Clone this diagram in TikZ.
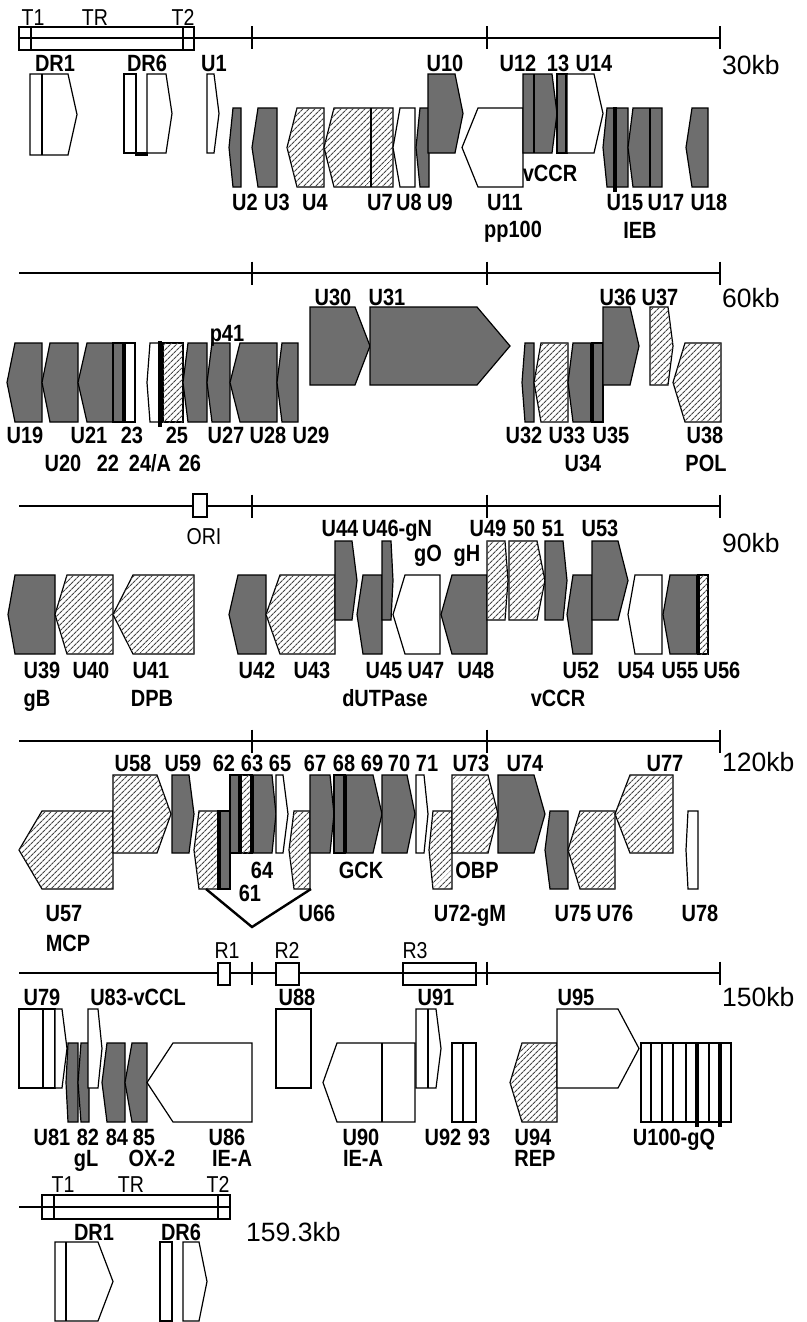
\documentclass[tikz,border=0pt]{standalone}
\usepackage{fontspec}
\usetikzlibrary{patterns.meta}
\newfontfamily\labfont{Liberation Sans}[FakeStretch=0.85]
\newfontfamily\kbfont{Liberation Sans}
\definecolor{dkg}{RGB}{110,110,110}
\definecolor{htc}{RGB}{70,70,70}
\tikzset{
  dk/.style={draw=black,line width=1.2pt,fill=dkg,line join=miter},
  ht/.style={draw=black,line width=1.2pt,fill=white,postaction={pattern={Lines[angle=45,distance=4pt,line width=1.05pt]},pattern color=htc}},
  wt/.style={draw=black,line width=1.2pt,fill=white},
  gline/.style={draw=black,line width=1.2pt},
  tbar/.style={draw=black,line width=3.2pt},
  sc/.style={draw=black,line width=1.3pt},
  lab/.style={font=\labfont\bfseries\fontsize{23.5}{24}\selectfont,inner sep=0pt,text height=16.8pt,text depth=0pt},
  rlab/.style={font=\labfont\fontsize{23}{24}\selectfont,inner sep=0pt,text height=16.5pt,text depth=0pt},
  kb/.style={font=\kbfont\fontsize{26.5}{27}\selectfont,inner sep=0pt,text height=18.8pt,text depth=0pt,anchor=west}
}
\newcommand\RA[6]{\pgfmathsetmacro\ymid{(#5+#6)/2}\draw[#1] (#2,#5)--(#3,#5)--(#4,\ymid)--(#3,#6)--(#2,#6)--cycle;}
\newcommand\LA[6]{\pgfmathsetmacro\ymid{(#5+#6)/2}\draw[#1] (#2,\ymid)--(#3,#5)--(#4,#5)--(#4,#6)--(#3,#6)--cycle;}
\newcommand\BX[5]{\draw[#1] (#2,#4) rectangle (#3,#5);}
\newcommand\VL[3]{\draw[gline] (#1,#2)--(#1,#3);}
\newcommand\TB[3]{\draw[tbar] (#1,#2)--(#1,#3);}
\newcommand\gl[3]{\node[lab] at (#1,#2) {#3};}
\newcommand\rl[3]{\node[rlab] at (#1,#2) {#3};}
\newcommand\scaleline[1]{\draw[sc] (19,#1)--(720,#1);
  \foreach \tx in {252,487,720}{\draw[sc] (\tx,#1-11.5)--(\tx,#1+11.5);}}
\begin{document}
\begin{tikzpicture}[x=1pt,y=-1pt]
\useasboundingbox[fill=white] (0,0) rectangle (806,1322);
% ================= Row 1 =================
\scaleline{38}
\draw[sc] (19,27) rectangle (194,50);
\VL{31}{27}{50}\VL{183}{27}{50}
\rl{33}{17}{T1}\rl{95}{17}{TR}\rl{183}{17}{T2}
\node[kb] at (722,65) {30kb};
\RA{wt}{30}{68}{77}{74}{155}\VL{42}{74}{155}
\BX{wt}{124}{136}{74}{153}
\RA{wt}{147}{166}{172}{74}{153}
\draw[tbar] (135,154)--(148,154);
\RA{wt}{207}{214}{219}{74}{153}
\LA{dk}{229}{233}{241}{108}{187}
\LA{dk}{252}{258}{277}{108}{187}
\LA{ht}{287}{297}{324}{108}{187}
\LA{ht}{324}{334}{393}{108}{187}\VL{371}{108}{187}
\LA{wt}{393}{400}{415}{108}{187}
\LA{dk}{416}{420}{429}{108}{187}
\RA{dk}{428}{455}{463}{74}{153}
\LA{wt}{462}{478}{523}{108}{187}
\RA{dk}{523}{552}{557}{74}{153}\VL{534}{74}{153}
\BX{dk}{557}{567}{74}{153}\TB{567}{74}{153}
\RA{wt}{567}{594}{603}{74}{153}
\LA{dk}{603}{607}{628}{108}{187}\TB{615}{107}{192}
\LA{dk}{628}{633}{662}{108}{187}\VL{650}{108}{187}
\LA{dk}{686}{692}{708}{108}{187}
\gl{55}{63}{DR1}\gl{147}{63}{DR6}\gl{214}{63}{U1}\gl{445}{63}{U10}
\gl{518}{63}{U12}\gl{558}{63}{13}\gl{594}{63}{U14}
\gl{550}{173}{vCCR}
\gl{245}{202}{U2}\gl{277}{202}{U3}\gl{315}{202}{U4}\gl{380}{202}{U7}\gl{409}{202}{U8}\gl{440}{202}{U9}
\gl{505}{202}{U11}\gl{625}{202}{U15}\gl{666}{202}{U17}\gl{709}{202}{U18}
\gl{513}{229}{pp100}\gl{640}{230}{IEB}
% ================= Row 2 =================
\scaleline{273}
\node[kb] at (722,298) {60kb};
\LA{dk}{7}{15}{42}{343}{422}
\LA{dk}{42}{50}{78}{343}{422}
\LA{dk}{78}{87}{113}{343}{422}
\BX{dk}{113}{124}{343}{422}\BX{wt}{124}{135}{343}{422}\TB{124}{343}{422}
\LA{wt}{147}{150}{159}{343}{422}\TB{160}{341}{427}
\BX{ht}{163}{183}{343}{422}
\LA{dk}{183}{188}{207}{343}{422}
\LA{dk}{207}{212}{230}{343}{422}
\LA{dk}{230}{240}{277}{343}{422}
\LA{dk}{277}{282}{298}{343}{422}
\RA{dk}{310}{355}{370}{307}{385}
\RA{dk}{370}{477}{510}{307}{385}
\LA{dk}{522}{525}{534}{343}{422}
\LA{ht}{534}{541}{568}{343}{422}
\LA{dk}{568}{573}{592}{343}{422}
\BX{dk}{592}{603}{343}{422}\TB{592}{343}{422}
\RA{dk}{603}{630}{639}{307}{385}
\RA{ht}{650}{668}{673}{307}{385}
\LA{ht}{673}{685}{721}{343}{422}
\gl{333}{297}{U30}\gl{387}{297}{U31}\gl{618}{297}{U36}\gl{660}{297}{U37}
\gl{227}{333}{p41}
\gl{25}{435}{U19}\gl{89}{435}{U21}\gl{132}{435}{23}\gl{177}{435}{25}\gl{226}{435}{U27}\gl{268}{435}{U28}\gl{311}{435}{U29}
\gl{524}{435}{U32}\gl{567}{435}{U33}\gl{611}{435}{U35}\gl{705}{435}{U38}
\gl{63}{463}{U20}\gl{108}{463}{22}\gl{150}{463}{24/A}\gl{190}{463}{26}
\gl{583}{463}{U34}\gl{706}{463}{POL}
% ================= Row 3 =================
\scaleline{506}
\draw[sc,fill=white] (193,494) rectangle (207,517);
\rl{204}{536}{ORI}
\node[kb] at (722,543) {90kb};
\LA{dk}{8}{15}{55}{575}{654}
\LA{ht}{55}{67}{113}{575}{654}
\LA{ht}{113}{133}{194}{575}{654}
\LA{dk}{229}{238}{266}{575}{654}
\LA{ht}{266}{280}{335}{575}{654}
\RA{dk}{335}{352}{357}{541}{620}
\LA{dk}{357}{363}{382}{575}{654}
\LA{wt}{393}{405}{440}{575}{654}
\RA{dk}{382}{391}{393}{541}{620}
\LA{dk}{441}{452}{487}{575}{654}
\RA{ht}{487}{505}{508}{541}{620}
\RA{ht}{509}{537}{545}{541}{620}
\RA{dk}{545}{563}{567}{541}{620}
\LA{dk}{567}{573}{592}{575}{654}
\RA{dk}{592}{618}{628}{541}{620}
\LA{wt}{628}{635}{662}{575}{654}
\LA{dk}{663}{670}{698}{575}{654}
\BX{ht}{698}{708}{575}{654}\TB{698}{575}{654}
\gl{340}{528}{U44}\gl{397}{528}{U46-gN}\gl{488}{528}{U49}\gl{524}{528}{50}\gl{553}{528}{51}\gl{600}{528}{U53}
\gl{428}{553}{gO}\gl{467}{553}{gH}
\gl{42}{670}{U39}\gl{91}{670}{U40}\gl{151}{670}{U41}\gl{257}{670}{U42}\gl{312}{670}{U43}\gl{384}{670}{U45}
\gl{426}{670}{U47}\gl{476}{670}{U48}\gl{581}{670}{U52}\gl{636}{670}{U54}\gl{680}{670}{U55}\gl{722}{670}{U56}
\gl{37}{698}{gB}\gl{152}{698}{DPB}\gl{385}{698}{dUTPase}\gl{558}{698}{vCCR}
% ================= Row 4 =================
\scaleline{741}
\node[kb] at (722,762) {120kb};
\LA{ht}{19}{42}{113}{811}{889}
\RA{ht}{113}{157}{171}{775}{853}
\RA{dk}{172}{189}{194}{775}{853}
\LA{ht}{194}{199}{218}{811}{889}
\BX{dk}{218}{230}{811}{889}\TB{219}{811}{889}
\BX{dk}{230}{240}{775}{853}
\BX{ht}{240}{252}{775}{853}\TB{240}{775}{853}
\RA{dk}{252}{272}{276}{775}{853}\TB{252}{775}{853}
\RA{wt}{276}{283}{288}{775}{853}
\LA{ht}{289}{294}{310}{811}{889}
\draw[line width=2.4pt,line join=miter] (206,889)--(252,927)--(311,889);
\RA{dk}{310}{330}{334}{775}{853}
\BX{dk}{334}{345}{775}{853}
\RA{dk}{345}{373}{382}{775}{853}\TB{345}{775}{853}
\RA{dk}{382}{407}{415}{775}{853}
\RA{wt}{416}{424}{428}{775}{853}
\LA{ht}{429}{433}{452}{811}{889}
\RA{ht}{452}{488}{498}{775}{853}
\RA{dk}{498}{534}{545}{775}{853}
\LA{dk}{545}{550}{568}{811}{889}
\LA{ht}{568}{580}{615}{811}{889}
\LA{ht}{615}{630}{673}{775}{853}
\LA{wt}{686}{688}{698}{811}{889}
\gl{133}{763}{U58}\gl{183}{763}{U59}\gl{224}{763}{62}\gl{252}{763}{63}\gl{280}{763}{65}
\gl{315}{763}{67}\gl{344}{763}{68}\gl{372}{763}{69}\gl{399}{763}{70}\gl{427}{763}{71}
\gl{471}{763}{U73}\gl{525}{763}{U74}\gl{665}{763}{U77}
\gl{262}{870}{64}\gl{250}{893}{61}\gl{361}{870}{GCK}\gl{477}{870}{OBP}
\gl{64}{913}{U57}\gl{68}{943}{MCP}\gl{317}{913}{U66}\gl{470}{913}{U72-gM}
\gl{573}{913}{U75}\gl{615}{913}{U76}\gl{700}{913}{U78}
% ================= Row 5 =================
\scaleline{973}
\draw[sc,fill=white] (218,963) rectangle (230,985);
\draw[sc,fill=white] (276,963) rectangle (299,985);
\draw[sc] (403,963) rectangle (476,985);
\rl{227}{950}{R1}\rl{287}{950}{R2}\rl{415}{950}{R3}
\node[kb] at (722,997) {150kb};
\BX{wt}{19}{43}{1009}{1088}\BX{wt}{43}{55}{1009}{1088}
\RA{wt}{55}{62}{67}{1009}{1088}
\LA{dk}{66}{68}{78}{1043}{1122}
\LA{dk}{78}{81}{89}{1043}{1122}
\RA{wt}{88}{98}{102}{1009}{1088}
\LA{dk}{102}{107}{125}{1043}{1122}
\LA{dk}{125}{132}{147}{1043}{1122}
\LA{wt}{147}{173}{252}{1043}{1122}
\BX{wt}{276}{311}{1009}{1088}
\LA{wt}{323}{337}{415}{1043}{1122}\VL{382}{1043}{1122}
\RA{wt}{416}{436}{441}{1009}{1088}\VL{428}{1009}{1088}
\BX{wt}{452}{463}{1043}{1122}\BX{wt}{463}{476}{1043}{1122}
\LA{ht}{510}{522}{557}{1043}{1122}
\RA{wt}{557}{618}{639}{1009}{1088}
\BX{wt}{641}{731}{1043}{1122}
\foreach \dx in {651,662,673,686,709}{\VL{\dx}{1043}{1122}}
\TB{697}{1043}{1127}\TB{720}{1043}{1127}
\gl{42}{997}{U79}\gl{138}{997}{U83-vCCL}\gl{297}{997}{U88}\gl{436}{997}{U91}\gl{576}{997}{U95}
\gl{52}{1137}{U81}\gl{88}{1137}{82}\gl{117}{1137}{84}\gl{144}{1137}{85}\gl{227}{1137}{U86}
\gl{361}{1137}{U90}\gl{443}{1137}{U92}\gl{479}{1137}{93}\gl{533}{1137}{U94}\gl{674}{1137}{U100-gQ}
\gl{86}{1158}{gL}\gl{152}{1158}{OX-2}\gl{232}{1158}{IE-A}\gl{363}{1158}{IE-A}\gl{535}{1158}{REP}
% ================= Row 6 =================
\draw[sc] (19,1207)--(230,1207);
\draw[sc] (42,1195) rectangle (230,1219);
\VL{54}{1195}{1219}\VL{218}{1195}{1219}
\rl{63}{1184}{T1}\rl{131}{1184}{TR}\rl{218}{1184}{T2}
\node[kb] at (246,1232) {159.3kb};
\RA{wt}{55}{98}{113}{1242}{1321}\VL{66}{1242}{1321}
\BX{wt}{160}{172}{1242}{1321}
\RA{wt}{183}{199}{207}{1242}{1321}
\gl{94}{1232}{DR1}\gl{181}{1232}{DR6}
\end{tikzpicture}
\end{document}
